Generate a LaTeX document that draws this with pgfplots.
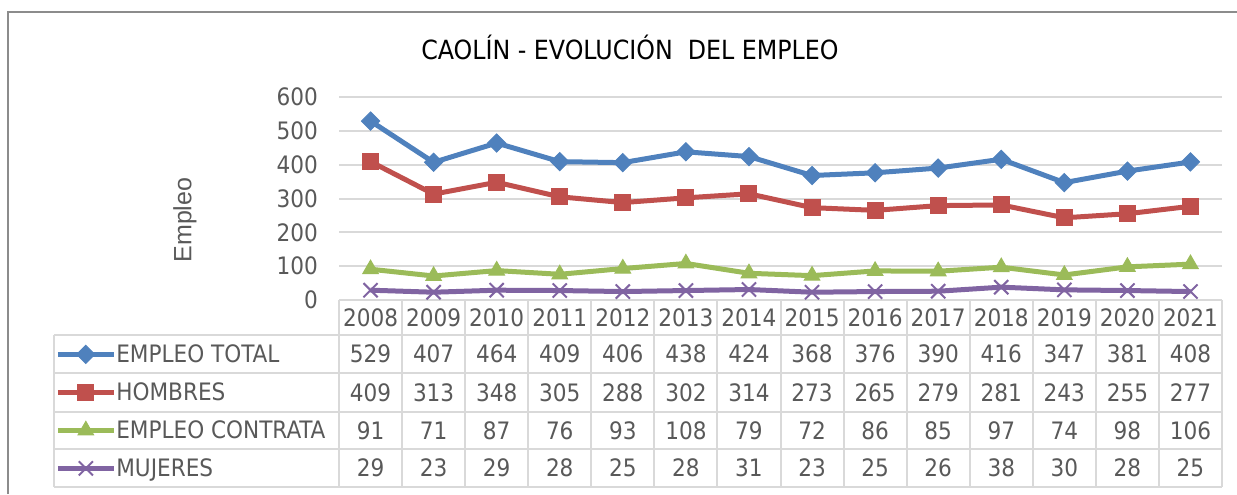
\documentclass[border=0pt]{standalone}
\usepackage{fontspec}
\setmainfont{DejaVu Sans Condensed}
\newfontfamily\arialfont{Liberation Sans}
\usepackage{pgfplots}
\usepackage{pgfplotstable}
\pgfplotsset{compat=1.18}

\definecolor{cblue}{HTML}{4F81BD}
\definecolor{cred}{HTML}{C0504D}
\definecolor{cgreen}{HTML}{9BBB59}
\definecolor{cpurple}{HTML}{8064A2}
\definecolor{textgray}{HTML}{595959}
\definecolor{gridgray}{HTML}{D9D9D9}
\definecolor{framegray}{HTML}{8C8C8C}

\newcommand\tf{\fontsize{12}{14.4}\selectfont}

% Caolin - evolucion del empleo
\pgfplotstableread{
year total hombres contrata mujeres
2008 529 409 91 29
2009 407 313 71 23
2010 464 348 87 29
2011 409 305 76 28
2012 406 288 93 25
2013 438 302 108 28
2014 424 314 79 31
2015 368 273 72 23
2016 376 265 86 25
2017 390 279 85 26
2018 416 281 97 38
2019 347 243 74 30
2020 381 255 98 28
2021 408 277 106 25
}\datos

\pgfplotsset{
  tablerow/.style={forget plot, draw=none, mark=none, nodes near coords,
    point meta=explicit symbolic,
    every node near coord/.append style={anchor=center, text=textgray, font=\tf, inner sep=0pt}},
}

\begin{document}
\begin{tikzpicture}
\begin{scope}[x=0.5pt,y=-0.5pt]
  \useasboundingbox (0,0) rectangle (1237,494);
  \draw[framegray, line width=1pt] (8,494) -- (8,12) -- (1237,12);
  \node[text=black, font=\fontsize{13.2}{16}\selectfont] at (630,47) {CAOLÍN - EVOLUCIÓN~~DEL EMPLEO};
  % rejilla de la tabla
  \draw[gridgray, line width=1pt] (339,300) -- (1222,300);
  \foreach \yy in {335,373,412,449,487}
    \draw[gridgray, line width=1pt] (54,\yy) -- (1222,\yy);
  \foreach \i in {0,...,14}
    \draw[gridgray, line width=1pt] ({339+\i*883/14},300) -- ({339+\i*883/14},487);
  \draw[gridgray, line width=1pt] (54,335) -- (54,487);
\end{scope}

\begin{axis}[
  at={(169.5pt,-150pt)}, anchor=south west,
  scale only axis, width=441.5pt, height=101.5pt,
  xmin=-0.5, xmax=13.5, ymin=0, ymax=600,
  ytick={0,100,...,600}, xtick=\empty,
  ymajorgrids, grid style={gridgray, line width=1pt},
  axis line style={draw=none},
  major tick length=0pt,
  /pgf/number format/assume math mode=true,
  yticklabel style={text=textgray, font=\tf, anchor=east, xshift=-7pt},
  clip=false,
  ylabel={Empleo},
  ylabel style={at={(axis description cs:-0.1744,0.394)}, anchor=center,
    text=textgray, font=\arialfont\fontsize{12.5}{15}\selectfont},
  legend style={at={(axis description cs:-0.3217,-0.1724)}, anchor=north west,
    draw=none, fill=none, inner sep=0pt, row sep=0pt, column sep=0pt,
    font=\tf, text=textgray,
    nodes={inner sep=0pt, text height=13.4pt, text depth=5.6pt}},
  legend cell align=left,
  legend image code/.code={\draw[mark repeat=2, mark phase=2]
    plot coordinates {(0pt,0pt) (14pt,0pt) (28pt,0pt)};},
]
\addplot[cblue, line width=2.5pt, mark=square*, mark size=3.2pt,
  mark options={rotate=45, solid, line width=0.5pt}]
  table[x expr=\coordindex, y=total] {\datos};
\addlegendentry{EMPLEO TOTAL}
\addplot[cred, line width=2.5pt, mark=square*, mark size=4pt,
  mark options={solid, line width=0.5pt}]
  table[x expr=\coordindex, y=hombres] {\datos};
\addlegendentry{HOMBRES}
\addplot[cgreen, line width=2.5pt, mark=triangle*, mark size=4.5pt,
  mark options={solid, line width=0.5pt}]
  table[x expr=\coordindex, y=contrata] {\datos};
\addlegendentry{EMPLEO CONTRATA}
\addplot[cpurple, line width=2.5pt, mark=x, mark size=5pt,
  mark options={solid, line width=1pt}]
  table[x expr=\coordindex, y=mujeres] {\datos};
\addlegendentry{MUJERES}

% filas de la tabla de datos
\addplot[tablerow] table[x expr=\coordindex, y expr=-51.7, meta=year] {\datos};
\addplot[tablerow] table[x expr=\coordindex, y expr=-159.6, meta=total] {\datos};
\addplot[tablerow] table[x expr=\coordindex, y expr=-273.4, meta=hombres] {\datos};
\addplot[tablerow] table[x expr=\coordindex, y expr=-385.7, meta=contrata] {\datos};
\addplot[tablerow] table[x expr=\coordindex, y expr=-496.5, meta=mujeres] {\datos};
\end{axis}
\end{tikzpicture}
\end{document}
